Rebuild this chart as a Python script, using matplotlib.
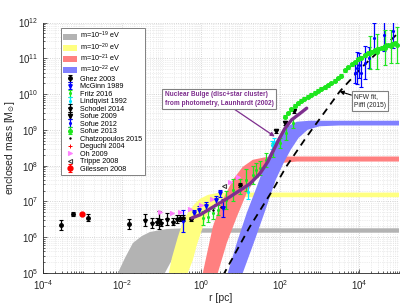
import numpy as np
import matplotlib
matplotlib.use('Agg')
import matplotlib.pyplot as plt
from matplotlib.ticker import LogLocator, NullFormatter, FixedLocator, LogFormatterSciNotation

plt.rcParams['font.family'] = ['Liberation Sans', 'DejaVu Sans']
plt.rcParams['mathtext.fontset'] = 'custom'
plt.rcParams['mathtext.rm'] = 'Liberation Sans'
plt.rcParams['mathtext.it'] = 'Liberation Sans:italic'
plt.rcParams['mathtext.bf'] = 'Liberation Sans:bold'

# ---------------- data (log10 r [pc], log10 M [Msun]) ----------------
band_labels = ['m=10$^{-19}$ eV', 'm=10$^{-20}$ eV', 'm=10$^{-21}$ eV', 'm=10$^{-22}$ eV']
band_colors = ['#b3b3b3', '#ffff80', '#ff8080', '#8080ff']

gray_up_logr = [-2.106, -1.929, -1.727, -1.5, -1.298, -0.869, -0.414, 5.0]
gray_up_logM = [5.0, 5.418, 5.838, 6.034, 6.146, 6.23, 6.25, 6.25]
gray_lo_logr = [-0.919, -0.743, -0.616, -0.465, -0.339, -0.212, 5.0]
gray_lo_logM = [5.0, 5.362, 5.642, 5.95, 6.09, 6.126, 6.126]

yellow_up_logr = [-0.818, -0.743, -0.591, -0.465, -0.339, -0.187, -0.036, 0.166, 0.419, 0.722, 5.0]
yellow_up_logM = [5.0, 5.418, 6.006, 6.426, 6.678, 6.902, 7.07, 7.182, 7.238, 7.247, 7.247]
yellow_lo_logr = [-0.339, -0.212, -0.111, 0.015, 0.116, 0.267, 0.469, 0.772, 5.0]
yellow_lo_logM = [5.0, 5.362, 5.782, 6.202, 6.538, 6.846, 7.042, 7.118, 7.118]

red_up_logr = [0.04, 0.166, 0.293, 0.419, 0.545, 0.798, 1.05, 1.303, 1.606, 1.984, 5.0]
red_up_logM = [5.0, 5.642, 6.286, 6.706, 7.042, 7.602, 7.967, 8.163, 8.233, 8.255, 8.255]
red_lo_logr = [0.419, 0.646, 0.899, 1.151, 1.404, 1.732, 2.06, 2.414, 5.0]
red_lo_logM = [5.0, 5.838, 6.566, 7.238, 7.686, 7.967, 8.079, 8.115, 8.115]

blue_up_logr = [0.671, 0.899, 1.151, 1.404, 1.656, 1.909, 2.161, 2.414, 2.742, 5.0]
blue_up_logM = [5.0, 5.838, 6.678, 7.406, 8.163, 8.723, 9.087, 9.227, 9.255, 9.255]
blue_lo_logr = [1.05, 1.328, 1.606, 1.883, 2.085, 2.262, 2.464, 2.691, 2.994, 3.5, 5.0]
blue_lo_logM = [5.0, 5.838, 6.706, 7.602, 8.079, 8.443, 8.779, 9.003, 9.101, 9.123, 9.123]

launhardt_logr = [-0.238, -0.036, 0.217, 0.469, 0.722, 0.974, 1.227, 1.479, 1.681, 1.833,
                  1.959, 2.11, 2.287, 2.489, 2.666]
launhardt_logM = [6.538, 6.622, 6.79, 6.958, 7.126, 7.308, 7.49, 7.77, 8.107, 8.443,
                  8.723, 9.031, 9.283, 9.451, 9.605]

nfw_logr = [0.55, 1.227, 1.808, 2.16, 2.667, 3.5, 4.08, 4.965, 5.0]
nfw_logM = [4.93, 6.29, 7.32, 7.99, 8.81, 10.07, 10.77, 11.69, 11.73]

ghez_logr = [-3.545, -3.242, -2.864, -1.828]
ghez_logM = [6.342, 6.642, 6.546, 6.362]
ghez_err = [0.15, 0.06, 0.1, 0.14]

mcginn_logr = [-0.457, -0.18, -0.053, 0.116, 0.386, 0.469, 0.553]
mcginn_logM = [6.45, 6.686, 6.762, 6.874, 7.042, 7.23, 6.81]
mcginn_err = [0.3, 0.08, 0.1, 0.1, 0.12, 0.1, 0.25]

fritz_logr = [0.048, 0.174, 0.3, 0.426, 0.638, 0.805, 0.974, 1.143, 1.31, 1.396, 1.479,
              1.648, 1.815, 1.984, 2.153, 2.32]
fritz_logM = [6.53, 6.574, 6.67, 6.762, 7.042, 7.322, 7.415, 7.602, 7.742, 7.883, 7.93,
              8.163, 8.443, 8.63, 8.91, 9.19]
fritz_err = [0.2, 0.15, 0.15, 0.15, 0.25, 0.3, 0.2, 0.3, 0.25, 0.2, 0.2, 0.2, 0.2, 0.15, 0.2, 0.15]

lindqvist_logr = [1.176, 1.782, 1.84]
lindqvist_logM = [7.266, 8.583, 8.66]
lindqvist_err = [0.2, 0.12, 0.1]

schodel_logr = [-1.424, -1.248, -1.122, -1.071, -1.021, -0.869, -0.718, -0.616, -0.541,
                -0.465, -0.263, 0.974]
schodel_logM = [6.48, 6.40, 6.43, 6.48, 6.40, 6.51, 6.43, 6.51, 6.54, 6.54, 6.51, 7.46]
schodel_err = [0.17, 0.15, 0.1, 0.25, 0.1, 0.18, 0.1, 0.1, 0.08, 0.08, 0.06, 0.05]

sofue09_logr = [1.9, 2.11, 2.34]
sofue09_logM = [8.96, 9.19, 9.53]
sofue09_err = [0.05, 0.05, 0.05]

sofue12_logr = [3.88, 3.929, 3.98, 4.03, 4.131, 4.23, 4.358, 4.61, 4.838]
sofue12_logM = [10.6, 10.74, 10.8, 10.6, 10.88, 11.02, 11.58, 11.66, 11.75]
sofue12_err = [0.3, 0.45, 0.35, 0.4, 0.45, 0.3, 0.4, 0.45, 0.45]

sofue13_logr = [2.11, 2.19, 2.27, 2.36, 2.44, 2.53, 2.61, 2.70, 2.78, 2.87, 2.95, 3.04,
                3.12, 3.21, 3.29, 3.37, 3.46, 3.54, 3.63, 3.71, 3.80, 3.88, 3.97, 4.05,
                4.14, 4.22, 4.31, 4.39, 4.48, 4.56, 4.65, 4.73, 4.82, 4.90,
                4.257, 4.434, 4.636, 4.787, 4.939]
sofue13_logM = [9.37, 9.47, 9.57, 9.67, 9.74, 9.81, 9.87, 9.93, 9.98, 10.04, 10.09, 10.15,
                10.19, 10.25, 10.31, 10.37, 10.45, 10.51, 10.66, 10.75, 10.83, 10.89, 10.97,
                11.02, 11.08, 11.14, 11.19, 11.23, 11.27, 11.30, 11.33, 11.36, 11.39, 11.42,
                11.16, 11.19, 11.3, 11.33, 11.38]
sofue13_err = [0.04] * 34 + [0.45, 0.5, 0.5, 0.45, 0.5]

chatzo_logr = [0.3, 0.5]
chatzo_logM = [6.75, 6.85]

deguchi_logr = [1.0]
deguchi_logM = [7.35]

oh_logr = [-1.045, -0.75, -0.541, -0.288, 0.007, 0.267, 0.739, 0.931]
oh_logM = [6.714, 6.686, 6.714, 6.782, 6.902, 7.056, 7.555, 7.678]

trippe_logr = [0.57]
trippe_logM = [7.44]

gillessen_logr = [-3.02]
gillessen_logM = [6.655]
gillessen_err = [0.03]

# ---------------- figure ----------------
fig = plt.figure(figsize=(4.15, 3.06), dpi=100)
ax = fig.add_axes([0.1036, 0.1078, 0.8578, 0.8186])
ax.set_xscale('log')
ax.set_yscale('log')
ax.set_xlim(1e-4, 1e5)
ax.set_ylim(1e5, 1e12)

handles = []

def band(up_r, up_M, lo_r, lo_M, color, label):
    xs = np.concatenate([10 ** np.array(up_r), (10 ** np.array(lo_r))[::-1]])
    ys = np.concatenate([10 ** np.array(up_M), (10 ** np.array(lo_M))[::-1]])
    p = ax.fill(xs, ys, color=color, lw=0, label=label, zorder=1)[0]
    handles.append(p)

band(gray_up_logr, gray_up_logM, gray_lo_logr, gray_lo_logM, band_colors[0], band_labels[0])
band(yellow_up_logr, yellow_up_logM, yellow_lo_logr, yellow_lo_logM, band_colors[1], band_labels[1])
band(red_up_logr, red_up_logM, red_lo_logr, red_lo_logM, band_colors[2], band_labels[2])
band(blue_up_logr, blue_up_logM, blue_lo_logr, blue_lo_logM, band_colors[3], band_labels[3])

ax.plot(10 ** np.array(nfw_logr), 10 ** np.array(nfw_logM), color='k', lw=1.3,
        dashes=(4, 3), zorder=3)


def eb(lr, lM, err, color, marker, label, ms=2.5, mfc=None):
    r = 10 ** np.array(lr)
    M = 10 ** np.array(lM)
    e = np.array(err)
    yerr = [M - M * 10 ** (-e), M * 10 ** e - M]
    h = ax.errorbar(r, M, yerr=yerr, fmt=marker, color=color, ms=ms, elinewidth=0.9,
                    capsize=1.5, capthick=0.8, mfc=mfc if mfc else color, mec=color,
                    label=label, zorder=5)
    handles.append(h)


def pts(lr, lM, color, marker, label, ms=2.5, mfc=None):
    h, = ax.plot(10 ** np.array(lr), 10 ** np.array(lM), marker, color=color, ms=ms,
                 mfc=mfc if mfc else color, mec=color, ls='none', label=label, zorder=5,
                 mew=0.7)
    handles.append(h)

green = '#1ee61e'
eb(ghez_logr, ghez_logM, ghez_err, 'k', 'o', 'Ghez 2003')
eb(mcginn_logr, mcginn_logM, mcginn_err, '#0000ff', 'v', 'McGinn 1989')
eb(fritz_logr, fritz_logM, fritz_err, green, '.', 'Fritz 2016')
eb(lindqvist_logr, lindqvist_logM, lindqvist_err, '#00e5ff', '.', 'Lindqvist 1992')
eb(schodel_logr, schodel_logM, schodel_err, 'k', '*', 'Schodel 2014', ms=3)
eb(sofue09_logr, sofue09_logM, sofue09_err, 'k', 'v', 'Sofue 2009', ms=3)
eb(sofue12_logr, sofue12_logM, sofue12_err, '#0000ff', '.', 'Sofue 2012')
eb(sofue13_logr, sofue13_logM, sofue13_err, green, 'o', 'Sofue 2013', ms=2.6)
pts(chatzo_logr, chatzo_logM, 'k', '.', 'Chatzopoulos 2015', ms=2)
pts(deguchi_logr, deguchi_logM, 'r', '+', 'Deguchi 2004', ms=3)
pts(oh_logr, oh_logM, '#ff80ff', '>', 'Oh 2009', ms=3)
pts(trippe_logr, trippe_logM, '#333333', '<', 'Trippe 2008', ms=3, mfc='none')
eb(gillessen_logr, gillessen_logM, gillessen_err, 'r', 'o', 'Gilessen 2008', ms=3.5)

ax.plot(10 ** np.array(launhardt_logr), 10 ** np.array(launhardt_logM), color='#7E2F8E',
        lw=2.4, zorder=6, solid_capstyle='round')

# annotations
ax.annotate('Nuclear Bulge (disc+star cluster)\nfrom photometry, Launhardt (2002)',
            xy=(10 ** 1.858, 10 ** 8.815), xytext=(10 ** 0.452, 10 ** 9.866),
            ha='center', va='center', fontsize=4.7, fontweight='bold', color='#7E2F8E',
            multialignment='left', linespacing=1.4,
            bbox=dict(boxstyle='square,pad=0.35', fc='white', ec='#808080', lw=0.8),
            arrowprops=dict(arrowstyle='-|>', color='#7E2F8E', lw=0.9, mutation_scale=6,
                            shrinkA=0, shrinkB=0), zorder=8)
ax.annotate('NFW fit,\nPiffl (2015)',
            xy=(10 ** 3.499, 10 ** 10.076), xytext=(10 ** 4.269, 10 ** 9.807),
            ha='center', va='center', fontsize=4.8, color='#262626',
            multialignment='left', linespacing=1.4,
            bbox=dict(boxstyle='square,pad=0.35', fc='white', ec='#808080', lw=0.8),
            arrowprops=dict(arrowstyle='-|>', color='k', lw=0.8, mutation_scale=6,
                            shrinkA=0, shrinkB=0), zorder=8)

# axes styling
for s in ['top', 'right']:
    ax.spines[s].set_visible(False)
for s in ['left', 'bottom']:
    ax.spines[s].set_color('#262626')
    ax.spines[s].set_linewidth(0.6)

ax.xaxis.set_major_locator(FixedLocator([1e-4, 1e-2, 1e0, 1e2, 1e4]))
ax.xaxis.set_major_formatter(LogFormatterSciNotation())
ax.xaxis.set_minor_locator(LogLocator(base=10, subs=np.arange(1, 10), numticks=30))
ax.xaxis.set_minor_formatter(NullFormatter())
ax.yaxis.set_major_locator(FixedLocator([1e5, 1e6, 1e7, 1e8, 1e9, 1e10, 1e11, 1e12]))
ax.yaxis.set_major_formatter(LogFormatterSciNotation())
ax.yaxis.set_minor_locator(LogLocator(base=10, subs=np.arange(2, 10), numticks=30))
ax.yaxis.set_minor_formatter(NullFormatter())
ax.tick_params(which='both', direction='in', top=False, right=False, colors='#262626',
               labelsize=7, width=0.5)
ax.tick_params(which='major', length=3)
ax.tick_params(which='minor', length=1.6)
ax.grid(True, which='major', color='#c8c8c8', ls=':', lw=0.6)
ax.grid(True, which='minor', color='#dcdcdc', ls=':', lw=0.5)
ax.set_axisbelow(True)

ax.set_xlabel('r [pc]', fontsize=7.5, labelpad=1, color='#262626')
ax.set_ylabel(r'enclosed mass [M$_{\odot}$]', fontsize=7.5, color='#262626',
              math_fontfamily='dejavusans')
ax.yaxis.set_label_coords(-0.072, 0.5)

leg = ax.legend(handles=handles, loc='upper left', bbox_to_anchor=(0.05, 0.978),
                borderaxespad=0, fontsize=5.2, labelspacing=0.0, handlelength=2.0,
                handleheight=0.9, handletextpad=0.4, borderpad=0.3, frameon=True,
                fancybox=False, edgecolor='#808080', framealpha=1)
leg.get_frame().set_linewidth(0.7)
leg.set_zorder(9)

fig.savefig('out.png', dpi=100)
